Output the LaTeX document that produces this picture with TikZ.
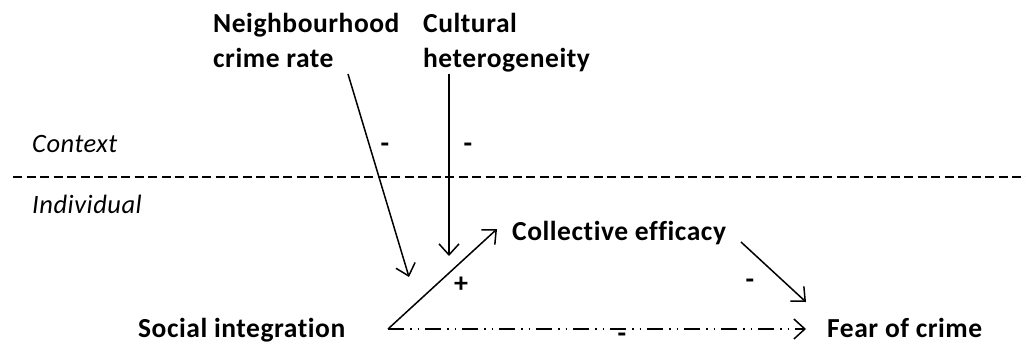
\documentclass[tikz,border=0pt]{standalone}
\usepackage{fontspec}
\setmainfont[Ligatures=NoCommon,LetterSpace=2]{Carlito}
\usetikzlibrary{arrows.meta}
\begin{document}
\begin{tikzpicture}[x=1pt,y=-1pt,
  lbl/.style={font=\fontsize{27.5}{35}\selectfont\bfseries, inner sep=0pt, anchor=base west, align=left},
  lvl/.style={font=\fontsize{26.5}{30}\selectfont\itshape, inner sep=0pt, anchor=base west},
  sgn/.style={font=\fontsize{28}{30}\selectfont\bfseries, inner sep=0pt},
  arr/.style={line width=1.5pt, -{Straight Barb[length=11pt,width=20pt,line width=1.5pt]}}]
\useasboundingbox (0,0) rectangle (1026,346);
% level labels
\node[lvl] (ctx) at (32,152) {Context};
\node[lvl] (ind) at (32,213) {Individual};
\coordinate (dl) at (13,177);
\coordinate (dr) at (1026,177);
\draw[line width=1.3pt, dash pattern=on 9pt off 4.5pt] (dl) -- (dr);
% context variables (anchor is baseline of last line)
\node[lbl] (nbh) at (213,67) {Neighbourhood\\crime rate};
\node[lbl] (cult) at (423,67) {Cultural\\heterogeneity};
% individual variables
\node[lbl] (ce) at (512,240) {Collective efficacy};
\node[lbl] (si) at (138,337) {Social integration};
\node[lbl] (foc) at (827,337) {Fear of crime};
% arrow endpoints
\coordinate (nbhS) at (348,74);
\coordinate (nbhE) at (409,277);
\coordinate (cultS) at (449,74);
\coordinate (cultE) at (449,256);
\coordinate (siS) at (388,329);
\coordinate (ceE) at (497,229);
\coordinate (ceS) at (741,242);
\coordinate (focE) at (806,302);
\coordinate (focW) at (806,329);
\draw[arr] (nbhS) -- (nbhE);
\draw[arr] (cultS) -- (cultE);
\draw[arr] (siS) -- (ceE);
\draw[arr] (ceS) -- (focE);
\draw[line width=1.5pt, dash pattern=on 16pt off 6pt on 1.5pt off 6pt on 1.5pt off 6pt, -{Straight Barb[length=11pt,width=20pt,line width=1.5pt]}] (siS) -- (focW);
% signs
\node[sgn] (s1) at (385,148) {-};
\node[sgn] (s2) at (468,148) {-};
\node[sgn] (s3) at (461,285) {+};
\node[sgn] (s4) at (750,284) {-};
\node[sgn] (s5) at (622,338) {-};
\end{tikzpicture}
\end{document}
